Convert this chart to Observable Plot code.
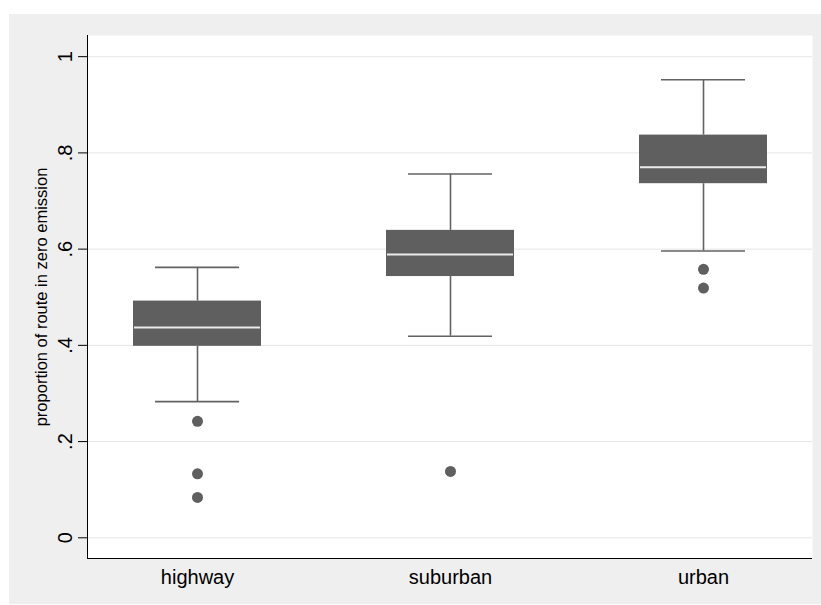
<!DOCTYPE html>
<html>
<head>
<meta charset="utf-8">
<script src="https://cdn.jsdelivr.net/npm/d3@7"></script>
<script src="https://cdn.jsdelivr.net/npm/@observablehq/plot@0.6"></script>
<style>
  html, body { margin: 0; padding: 0; background: #ffffff; }
  #chart { padding-left: 9px; padding-top: 14px; }
  #chart svg { display: block; background: #efefef; }
</style>
</head>
<body>
<div id="chart"></div>
<script>
// ---- data ----
const categories = ["highway", "suburban", "urban"];
const lowerWhisker = [0.283, 0.419, 0.596];
const q1 = [0.398, 0.543, 0.736];
const median = [0.437, 0.589, 0.770];
const q3 = [0.492, 0.639, 0.837];
const upperWhisker = [0.562, 0.756, 0.952];
const outlierCategory = ["highway", "highway", "highway", "suburban", "urban", "urban"];
const outlierValue = [0.242, 0.133, 0.084, 0.138, 0.558, 0.519];
const yTicks = [0, 0.2, 0.4, 0.6, 0.8, 1];
const yTickLabels = ["0", ".2", ".4", ".6", ".8", "1"];
const yDomain = [-0.043, 1.044];
const yTitle = "proportion of route in zero emission";

// ---- tables built from the arrays ----
const boxes = categories.map((c, i) => ({
  cat: c, lo: lowerWhisker[i], q1: q1[i], med: median[i], q3: q3[i], hi: upperWhisker[i]
}));
const outliers = outlierCategory.map((c, i) => ({cat: c, value: outlierValue[i]}));
const ticks = yTicks.map((v, i) => ({v, label: yTickLabels[i]}));

const boxColor = "#5f5f5f";
const lineColor = "#636363";

const chart = Plot.plot({
  width: 812,
  height: 590,
  marginLeft: 78,
  marginRight: 9,
  marginTop: 21,
  marginBottom: 46,
  style: {fontFamily: "'Liberation Sans', Arial, Helvetica, sans-serif", background: "#efefef", color: "black"},
  x: {type: "band", domain: categories, paddingInner: 0.495, paddingOuter: 0.1775, axis: null},
  y: {domain: yDomain, axis: null},
  marks: [
    Plot.frame({fill: "white", stroke: "none"}),
    Plot.gridY(yTicks, {stroke: "#e6e6e6", strokeOpacity: 1, strokeWidth: 1}),
    // whiskers
    Plot.ruleX(boxes, {x: "cat", y1: "q3", y2: "hi", stroke: lineColor, strokeWidth: 1.6}),
    Plot.ruleX(boxes, {x: "cat", y1: "lo", y2: "q1", stroke: lineColor, strokeWidth: 1.6}),
    Plot.tickY(boxes, {x: "cat", y: "hi", stroke: lineColor, strokeWidth: 1.6, insetLeft: 22, insetRight: 22}),
    Plot.tickY(boxes, {x: "cat", y: "lo", stroke: lineColor, strokeWidth: 1.6, insetLeft: 22, insetRight: 22}),
    // boxes
    Plot.barY(boxes, {x: "cat", y1: "q1", y2: "q3", fill: boxColor}),
    Plot.tickY(boxes, {x: "cat", y: "med", stroke: "#ececec", strokeWidth: 2, insetLeft: 1, insetRight: 1}),
    // outliers
    Plot.dot(outliers, {x: "cat", y: "value", r: 5.5, fill: boxColor, stroke: "none"}),
    // axis lines
    Plot.ruleY([yDomain[0]], {stroke: "black", strokeWidth: 1}),
    Plot.frame({anchor: "left", stroke: "black", strokeWidth: 1}),
    // y ticks
    Plot.axisY(yTicks, {tickSize: 9, tickFormat: () => "", stroke: "black"}),
    Plot.text(ticks, {y: "v", text: "label", frameAnchor: "left", dx: -16, rotate: -90,
      textAnchor: "middle", lineAnchor: "bottom", fontSize: 20, fill: "black"}),
    // y title
    Plot.text([yTitle], {text: d => d, frameAnchor: "left", dx: -40.5, rotate: -90,
      textAnchor: "middle", lineAnchor: "bottom", fontSize: 16.5, fill: "black"}),
    // x labels
    Plot.text(categories, {x: d => d, text: d => d, frameAnchor: "bottom", dy: 25,
      lineAnchor: "bottom", fontSize: 20, fill: "black"})
  ]
});
document.getElementById("chart").appendChild(chart);
</script>
</body>
</html>
